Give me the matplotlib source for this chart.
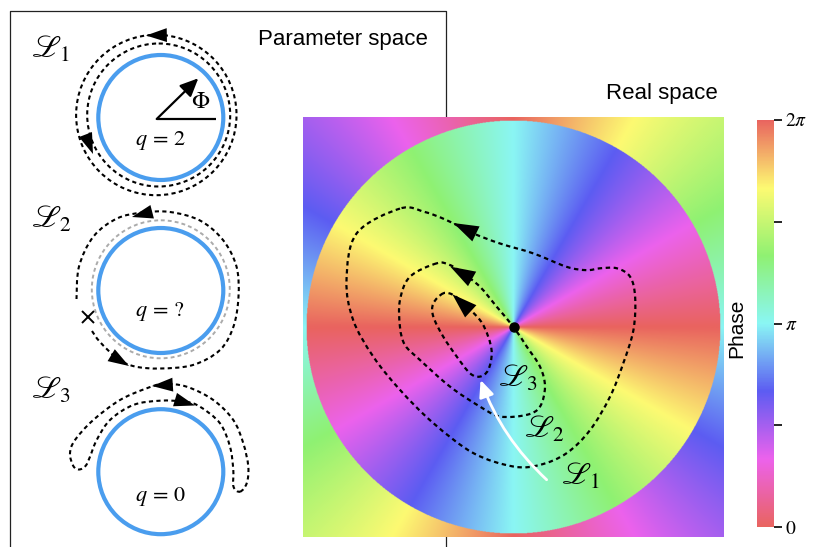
import numpy as np
import matplotlib
matplotlib.use('Agg')
import matplotlib.pyplot as plt
from matplotlib.path import Path
from matplotlib.patches import PathPatch, Circle, FancyArrowPatch
from matplotlib.colors import LinearSegmentedColormap, Normalize
from matplotlib.cm import ScalarMappable

plt.rcParams['mathtext.fontset'] = 'stix'
plt.rcParams['font.family'] = ['Liberation Sans', 'DejaVu Sans']

# ---------------- data ----------------
# cyclic phase colormap (0 .. 2pi)
phase_stops = [0, 1/6, 2/6, 3/6, 4/6, 5/6, 1]
phase_colors = ['#E9645F', '#EC62EC', '#5C5CF2', '#8AF6F4', '#8FF172', '#FDFA72', '#E9645F']
winding_q = 2
inner_offset = 0.0          # phase offset inside the disk
outer_offset = np.pi        # phase offset outside the disk
disk_radius = 1.0
cbar_ticks = [0, np.pi / 2, np.pi, 3 * np.pi / 2, 2 * np.pi]
cbar_labels = ['$0$', '', r'$\pi$', '', r'$2\pi$']

# real-space loops (units of disk radius, vortex at the origin)
loop1_x = [-0.548, -0.757, -0.806, -0.774, -0.677, -0.548, -0.387, -0.194, -0.001, 0.128, 0.257,
           0.370, 0.466, 0.530, 0.579, 0.587, 0.563, 0.499, 0.418, 0.354, 0.257, 0.096, -0.065,
           -0.194, -0.323, -0.430]
loop1_y = [0.573, 0.453, 0.227, 0.034, -0.143, -0.304, -0.465, -0.610, -0.675, -0.667, -0.610,
           -0.498, -0.337, -0.175, -0.014, 0.146, 0.243, 0.284, 0.284, 0.275, 0.291, 0.356, 0.404,
           0.453, 0.517, 0.557]
loop2_x = [-0.371, -0.500, -0.548, -0.548, -0.524, -0.452, -0.307, -0.162, -0.065, 0.064, 0.128,
           0.152, 0.128, 0.064, 0.0, -0.081, -0.162, -0.243, -0.307]
loop2_y = [0.308, 0.243, 0.130, 0.001, -0.087, -0.159, -0.288, -0.385, -0.433, -0.425, -0.385,
           -0.288, -0.192, -0.095, 0.0, 0.098, 0.195, 0.259, 0.300]
loop3_x = [-0.339, -0.387, -0.387, -0.339, -0.274, -0.210, -0.162, -0.122, -0.105, -0.122, -0.162,
           -0.243, -0.291]
loop3_y = [0.163, 0.114, 0.050, -0.047, -0.143, -0.224, -0.240, -0.208, -0.127, -0.047, 0.034,
           0.114, 0.155]
rs_arrow_tips = [(-0.29, 0.503), (-0.305, 0.292), (-0.295, 0.158)]
rs_arrow_tails = [(-0.17, 0.445), (-0.195, 0.23), (-0.20, 0.07)]
rs_labels = [r'$\mathscr{L}_1$', r'$\mathscr{L}_2$', r'$\mathscr{L}_3$']
rs_label_pos = [(0.325, -0.725), (0.150, -0.495), (0.022, -0.251)]
white_arrow_start = (0.160, -0.739)
white_arrow_end = (-0.159, -0.256)

# parameter-space sketches (panel pixel units, y downward)
order_circle_cx = [160.8, 160.8, 160.8]
order_circle_cy = [117.5, 290.5, 471.7]
order_circle_r = 62.5
l1_ring_cx = [156.3, 158.7]
l1_ring_cy = [115.0, 115.0]
l1_ring_r = [80.2, 71.5]
l2_gray_ring = (160.8, 289.3, 69.0)
l2_path_x = [92, 100, 118, 135, 160, 193, 220, 233.5, 238.5, 236.5, 223, 200, 170, 143, 117,
             93.5, 79, 76.5]
l2_path_y = [331, 342, 359, 366.5, 368.5, 365, 350, 326.5, 296.5, 266.5, 240, 220.5, 212,
             212.5, 218.5, 236.5, 266.5, 299]
l2_break = (88.3, 317.3)
l3_path_x = [240, 246.7, 248.3, 243.3, 233.3, 213.3, 186.7, 163.3, 146.7, 120, 93.3, 75, 70,
             73.3, 79, 85.5, 90, 96.7, 110, 133.3, 160, 185, 200, 220, 230, 233.3, 233.5]
l3_path_y = [491.7, 483.3, 466.7, 443.3, 420, 400, 386.7, 384, 388.3, 400, 420, 440, 453.3,
             466, 469.5, 466, 456.7, 440, 420, 405, 400.7, 401.7, 406.7, 423.3, 446.7, 470, 486.7]
ps_arrow_tips = [(146, 35.5), (93, 154), (132, 217), (129, 366), (152, 386), (195, 405.5)]
ps_arrow_tails = [(172, 35), (83, 128), (157, 210.5), (106, 352), (175, 384.5), (173, 399)]
ps_labels = [r'$\mathscr{L}_1$', r'$\mathscr{L}_2$', r'$\mathscr{L}_3$']
ps_label_pos = [(31, 50), (31, 220), (31, 391)]
q_labels = [r'$q\,=\,2$', r'$q\,=\,?$', r'$q\,=\,0$']
q_label_pos = [(160, 140), (160, 311.7), (160, 496.7)]
phi_origin = (156.7, 119)
phi_tip = (198.3, 78.3)
phi_base_end = (215.7, 119)

# ---------------- helpers ----------------
def smooth_path(xs, ys, closed=True):
    P = np.column_stack([xs, ys]).astype(float)
    n = len(P)
    verts = [P[0]]
    codes = [Path.MOVETO]
    segs = n if closed else n - 1
    for i in range(segs):
        if closed:
            p0, p1, p2, p3 = P[(i - 1) % n], P[i % n], P[(i + 1) % n], P[(i + 2) % n]
        else:
            p0 = P[i - 1] if i > 0 else P[0]
            p1, p2 = P[i], P[i + 1]
            p3 = P[i + 2] if i + 2 < n else P[n - 1]
        c1 = p1 + (p2 - p0) / 6
        c2 = p2 - (p3 - p1) / 6
        verts += [c1, c2, p2]
        codes += [Path.CURVE4] * 3
    return Path(verts, codes)


DASH = (0, (2.0, 1.6))


def head(a, tip, tail, hl, hw, color='k'):
    a.annotate('', xy=tip, xytext=tail,
               arrowprops=dict(arrowstyle=f'-|>,head_length={hl},head_width={hw}',
                               color=color, lw=0, shrinkA=0, shrinkB=0, mutation_scale=20))


W, H = 814, 547
fig = plt.figure(figsize=(W / 100, H / 100), dpi=100)

# ---------------- parameter-space panel ----------------
bg = fig.add_axes([0, 0, 1, 1])
bg.set_xlim(0, W)
bg.set_ylim(H, 0)
bg.axis('off')
bg.plot([10, 10, 446, 446], [H + 5, 11, 11, H + 5], color='#222222', lw=0.9, clip_on=False)
bg.text(343, 40, 'Parameter space', ha='center', va='center', fontsize=16)
bg.text(662, 93, 'Real space', ha='center', va='center', fontsize=16)
fig.text(737 / W, 1 - 328 / H, 'Phase', rotation=90, ha='center', va='center', fontsize=15)

blue = '#4A9DEE'
for cx, cy in zip(order_circle_cx, order_circle_cy):
    bg.add_patch(Circle((cx, cy), order_circle_r, fill=False, ec=blue, lw=3.0))

for cx, cy, r in zip(l1_ring_cx, l1_ring_cy, l1_ring_r):
    bg.add_patch(Circle((cx, cy), r, fill=False, ec='k', lw=1.5, ls=DASH))

gx, gy, gr = l2_gray_ring
bg.add_patch(Circle((gx, gy), gr, fill=False, ec='#ABABAB', lw=1.4, ls=DASH))
bg.add_patch(PathPatch(smooth_path(l2_path_x, l2_path_y, closed=False), fill=False,
                       ec='k', lw=1.5, ls=DASH))
bg.plot(*l2_break, marker='x', color='k', ms=9, mew=1.4)
bg.add_patch(PathPatch(smooth_path(l3_path_x, l3_path_y, closed=True), fill=False,
                       ec='k', lw=1.5, ls=DASH))

for tip, tail in zip(ps_arrow_tips, ps_arrow_tails):
    head(bg, tip, tail, 0.75, 0.25)

for s, (x, y) in zip(ps_labels, ps_label_pos):
    bg.text(x, y, s, fontsize=22, ha='left', va='center')
for s, (x, y) in zip(q_labels, q_label_pos):
    bg.text(x, y, s, fontsize=16, ha='center', va='center')

bg.plot([phi_origin[0], phi_base_end[0]], [phi_origin[1], phi_base_end[1]], color='k', lw=1.6,
        solid_capstyle='butt')
bg.annotate('', xy=phi_tip, xytext=phi_origin,
            arrowprops=dict(arrowstyle='-|>,head_length=0.55,head_width=0.25', color='k', lw=1.6,
                            shrinkA=0, shrinkB=0, mutation_scale=20))
bg.text(201, 102, r'$\Phi$', fontsize=17, ha='center', va='center')

# ---------------- real-space panel ----------------
cmap = LinearSegmentedColormap.from_list('phase', list(zip(phase_stops, phase_colors)), N=512)
ext = 1.016
ax = fig.add_axes([303 / W, 1 - 537 / H, 421 / W, 420 / H])
g = np.linspace(-ext, ext, 900)
X, Y = np.meshgrid(g, g)
theta = np.arctan2(Y, X)
Rr = np.hypot(X, Y)
phase = np.where(Rr <= disk_radius, winding_q * theta + inner_offset,
                 winding_q * theta + outer_offset) % (2 * np.pi)
rgb = cmap(phase / (2 * np.pi))
ax.imshow(rgb, origin='lower', extent=[-ext, ext, -ext, ext], aspect='auto',
          interpolation='antialiased')
ax.set_xlim(-ext, ext)
ax.set_ylim(-ext, ext)
ax.axis('off')

for lx, ly in [(loop1_x, loop1_y), (loop2_x, loop2_y), (loop3_x, loop3_y)]:
    ax.add_patch(PathPatch(smooth_path(lx, ly, closed=True), fill=False, ec='k', lw=1.6, ls=DASH))
for tip, tail in zip(rs_arrow_tips, rs_arrow_tails):
    head(ax, tip, tail, 0.9, 0.3)
ax.plot(0, 0, 'o', color='k', ms=6.5)
ax.add_patch(FancyArrowPatch(white_arrow_start, white_arrow_end,
                             connectionstyle='arc3,rad=-0.12',
                             arrowstyle='-|>,head_length=0.5,head_width=0.22',
                             mutation_scale=20, color='white', lw=2.0, shrinkA=0, shrinkB=0))
for s, (x, y) in zip(rs_labels, rs_label_pos):
    ax.text(x, y, s, fontsize=22, ha='center', va='center')

# ---------------- colorbar ----------------
cax = fig.add_axes([757 / W, 1 - 527 / H, 17 / W, 407 / H])
sm = ScalarMappable(norm=Normalize(0, 2 * np.pi), cmap=cmap)
cb = fig.colorbar(sm, cax=cax, ticks=cbar_ticks)
cb.ax.set_yticklabels(cbar_labels, fontsize=14)
cb.outline.set_visible(False)
cb.ax.tick_params(length=6, width=1.2, direction='out', pad=2)

fig.savefig('out.png', dpi=100, facecolor='white')
